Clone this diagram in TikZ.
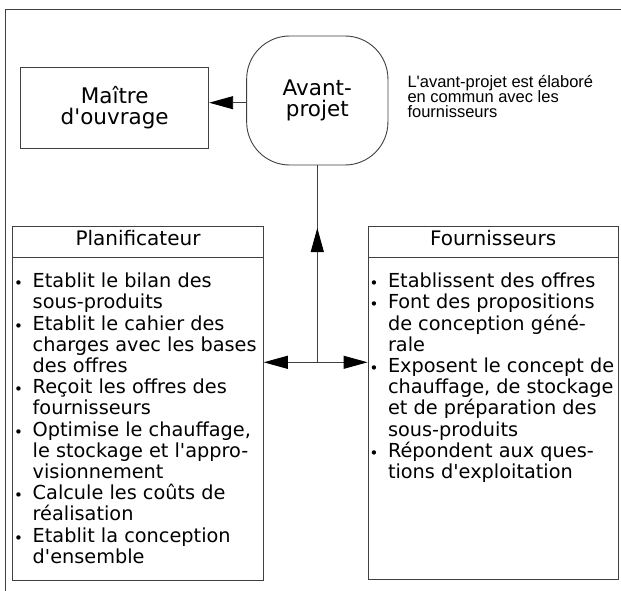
\documentclass[tikz,border=0pt]{standalone}
\usepackage{fontspec}
\newfontfamily\dejavu{DejaVu Sans}
\newfontfamily\notefont{Liberation Sans}
\usetikzlibrary{arrows.meta}
\tikzset{
  box/.style={draw=black!75, line width=0.9pt, inner sep=0pt},
  ln/.style={draw=black!75, line width=0.9pt, >={Triangle[length=24pt,width=13pt,color=black]}},
  bigtxt/.style={font=\dejavu\fontsize{21.5}{21}\selectfont, align=center},
  listtxt/.style={anchor=base west, inner sep=0pt, font=\dejavu\fontsize{19.3}{21.2}\selectfont},
  headtxt/.style={anchor=base, inner sep=0pt, font=\dejavu\fontsize{20}{22}\selectfont},
  notetxt/.style={anchor=base west, inner sep=0pt, font=\notefont\fontsize{16.5}{15}\selectfont},
}
\newcommand\bitem[1]{\hbox{\makebox[19.8pt][l]{\hspace*{1.3pt}\raisebox{-1pt}{\fontsize{15}{15}\selectfont\textbullet}}#1}}
\newcommand\citem[1]{\hbox{\hspace*{19.8pt}#1}}
\newcommand\plain[1]{\hbox{#1}}
\newcommand\stacklines[2]{\vtop{\baselineskip=#1\lineskiplimit=-\maxdimen\lineskip=0pt #2}}
\begin{document}
\begin{tikzpicture}[x=1pt,y=-1pt]
\useasboundingbox (0,0) rectangle (621,591);
\fill[white] (0,0) rectangle (621,591);
% partial frame
\coordinate (ftl) at (5.5,9.5);
\coordinate (ftr) at (621,9.5);
\coordinate (fbl) at (5.5,591);
\draw[ln] (ftr) -- (ftl) -- (fbl);

% top boxes
\node[box, minimum width=188pt, minimum height=81pt, bigtxt] (mo) at (114.7,107.8) {Maître\\d'ouvrage};
\node[box, rounded corners=43pt, minimum width=141.3pt, minimum height=129pt, bigtxt] (ap) at (317.3,100.5) {Avant-\\projet};

\node[notetxt] (note) at (407.3,87.3) {\stacklines{15pt}{%
  \plain{L'avant-projet est élaboré}%
  \plain{en commun avec les}%
  \plain{fournisseurs}}};

% lower boxes
\node[box, minimum width=250.6pt, minimum height=353.3pt] (pl) at (138,403.35) {};
\node[box, minimum width=250.3pt, minimum height=352.8pt] (fo) at (493.15,403.1) {};
\draw[ln] ([yshift=-31.6pt]pl.north west) -- ([yshift=-31.6pt]pl.north east);
\draw[ln] ([yshift=-31.6pt]fo.north west) -- ([yshift=-31.6pt]fo.north east);

\node[headtxt] (plh) at (138,245.7) {Planificateur};
\node[headtxt] (foh) at (493.15,245.5) {Fournisseurs};

\node[listtxt] (pll) at (12.7,287.7) {\stacklines{21.2pt}{%
  \bitem{Etablit le bilan des}%
  \citem{sous-produits}%
  \bitem{Etablit le cahier des}%
  \citem{charges avec les bases}%
  \citem{des offres}%
  \bitem{Reçoit les offres des}%
  \citem{fournisseurs}%
  \bitem{Optimise le chauffage,}%
  \citem{le stockage et l'appro-}%
  \citem{visionnement}%
  \bitem{Calcule les coûts de}%
  \citem{réalisation}%
  \bitem{Etablit la conception}%
  \citem{d'ensemble}}};

\node[listtxt] (fol) at (368,287.7) {\stacklines{21.2pt}{%
  \bitem{Etablissent des offres}%
  \bitem{Font des propositions}%
  \citem{de conception géné-}%
  \citem{rale}%
  \bitem{Exposent le concept de}%
  \citem{chauffage, de stockage}%
  \citem{et de préparation des}%
  \citem{sous-produits}%
  \bitem{Répondent aux ques-}%
  \citem{tions d'exploitation}}};

% connectors
\coordinate (jn) at (317.3,362.3);
\coordinate (uptip) at (317.3,228);
\draw[ln, ->] ([yshift=-2.2pt]ap.west) -- ([yshift=-2.2pt]ap.west -| mo.east);
\draw[ln] (ap.south) -- (jn);
\draw[ln, ->] (jn) -- (uptip);
\draw[ln, <->] (pl.east |- jn) -- (fo.west |- jn);
\end{tikzpicture}
\end{document}
